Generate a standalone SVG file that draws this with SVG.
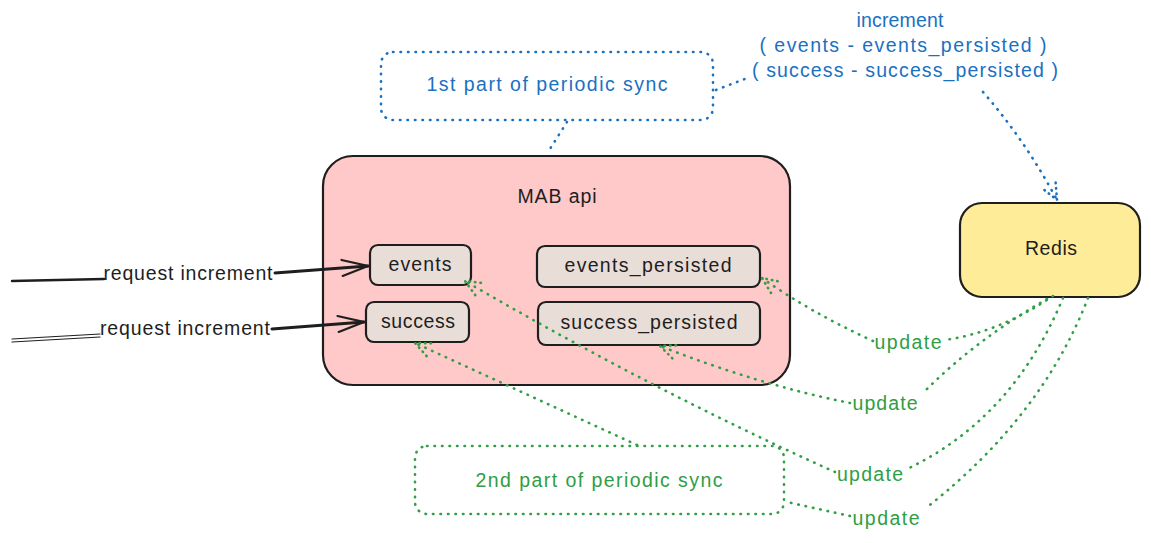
<svg xmlns="http://www.w3.org/2000/svg" width="1151" height="543" viewBox="0 0 1151 543">
<defs>
<style>
text{font-family:"Liberation Sans","DejaVu Sans",sans-serif;text-anchor:middle}
.t{font-size:19.5px;fill:#1e1e1e}
.blue{font-size:19.5px;fill:#1971c2}
.green{font-size:19.5px;fill:#2f9e44}
.box{stroke:#1e1e1e;stroke-width:2.2}
.dotb{fill:none;stroke:#1971c2;stroke-width:2.6;stroke-dasharray:0.5 7;stroke-linecap:round}
.dotg{fill:none;stroke:#2f9e44;stroke-width:2.6;stroke-dasharray:0.5 7;stroke-linecap:round}
.solid{fill:none;stroke:#1e1e1e;stroke-linecap:round}
</style>
<marker id="ag" viewBox="0 0 20 20" refX="18" refY="10" markerWidth="20" markerHeight="20" markerUnits="userSpaceOnUse" orient="auto">
<path d="M2,3 L18,10 L2,17" fill="none" stroke="#2f9e44" stroke-width="2.6" stroke-dasharray="0.5 5" stroke-linecap="round"/>
</marker>
<marker id="ab" viewBox="0 0 20 20" refX="18" refY="10" markerWidth="20" markerHeight="20" markerUnits="userSpaceOnUse" orient="auto">
<path d="M2,3 L18,10 L2,17" fill="none" stroke="#1971c2" stroke-width="2.6" stroke-dasharray="0.5 5" stroke-linecap="round"/>
</marker>
<marker id="ak" viewBox="0 0 30 20" refX="28" refY="10" markerWidth="30" markerHeight="20" markerUnits="userSpaceOnUse" orient="auto">
<path d="M2,2 L28,10 L2,18" fill="none" stroke="#1e1e1e" stroke-width="2.2" stroke-linecap="round"/>
</marker>
</defs>

<g id="mab-api">
<rect x="323" y="156" width="467" height="229" rx="30" fill="#ffc9c9" class="box" stroke-width="2.6"/>
<text class="t" x="557" y="203" textLength="79">MAB api</text>
</g>
<g id="events">
<rect x="370" y="245" width="101" height="40" rx="8" fill="#e9ddd8" class="box"/>
<text class="t" x="420" y="271" textLength="63">events</text>
</g>
<g id="success">
<rect x="366" y="302" width="103" height="40" rx="8" fill="#e9ddd8" class="box"/>
<text class="t" x="418" y="328" textLength="74">success</text>
</g>
<g id="events_persisted">
<rect x="537" y="246" width="223" height="41" rx="8" fill="#e9ddd8" class="box"/>
<text class="t" x="648" y="272" textLength="167">events_persisted</text>
</g>
<g id="success_persisted">
<rect x="538" y="302" width="222" height="43" rx="8" fill="#e9ddd8" class="box"/>
<text class="t" x="649" y="329" textLength="177">success_persisted</text>
</g>
<g id="redis">
<rect x="960" y="203" width="180" height="94" rx="22" fill="#ffec99" class="box" stroke-width="2.6"/>
<text class="t" x="1051" y="255" textLength="52">Redis</text>
</g>
<g id="sync1">
<rect x="381" y="52" width="332" height="68" rx="12" class="dotb"/>
<text class="blue" x="547" y="91" textLength="241">1st part of periodic sync</text>
</g>
<g id="sync2">
<rect x="415" y="446" width="369" height="68" rx="12" class="dotg"/>
<text class="green" x="599" y="487" textLength="247">2nd part of periodic sync</text>
</g>
<g id="increment-note">
<text class="blue" x="900" y="27" textLength="87">increment</text>
<text class="blue" x="903" y="52" textLength="287">( events - events_persisted )</text>
<text class="blue" x="905" y="77" textLength="306">( success - success_persisted )</text>
</g>

<g id="connectors">
<path class="solid" stroke-width="2.4" d="M12,281 L104,279"/>
<text class="t" x="188" y="280" textLength="169">request increment</text>
<path class="solid" stroke-width="3" d="M275,273 L368,266" marker-end="url(#ak)"/>
<path class="solid" stroke-width="1.2" d="M12,339 L100,334 M12,342 L100,337"/>
<text class="t" x="185" y="335" textLength="170">request increment</text>
<path class="solid" stroke-width="3" d="M272,329 L364,322" marker-end="url(#ak)"/>

<path class="dotb" d="M716,90 L750,77"/>
<path class="dotb" d="M567,122 L548,152"/>
<path class="dotb" d="M983,92 Q1025,140 1057,200" marker-end="url(#ab)"/>

<path class="dotg" d="M1053,296 Q1000,332 945,340"/>
<path class="dotg" d="M873,341 Q810,312 762,278" marker-end="url(#ag)"/>
<text class="green" x="908" y="349" textLength="67">update</text>

<path class="dotg" d="M1047,299 Q975,340 922,394"/>
<path class="dotg" d="M850,403 Q760,385 660,346" marker-end="url(#ag)"/>
<text class="green" x="885" y="410" textLength="65">update</text>

<path class="dotg" d="M1063,298 Q1012,420 905,470"/>
<path class="dotg" d="M835,472 Q650,389 465,281" marker-end="url(#ag)"/>
<text class="green" x="870" y="481" textLength="66">update</text>

<path class="dotg" d="M1088,298 Q1042,417 926,508"/>
<path class="dotg" d="M850,516 L787,502"/>
<text class="green" x="886" y="525" textLength="67">update</text>

<path class="dotg" d="M637,445 L415,343" marker-end="url(#ag)"/>
</g>
</svg>
